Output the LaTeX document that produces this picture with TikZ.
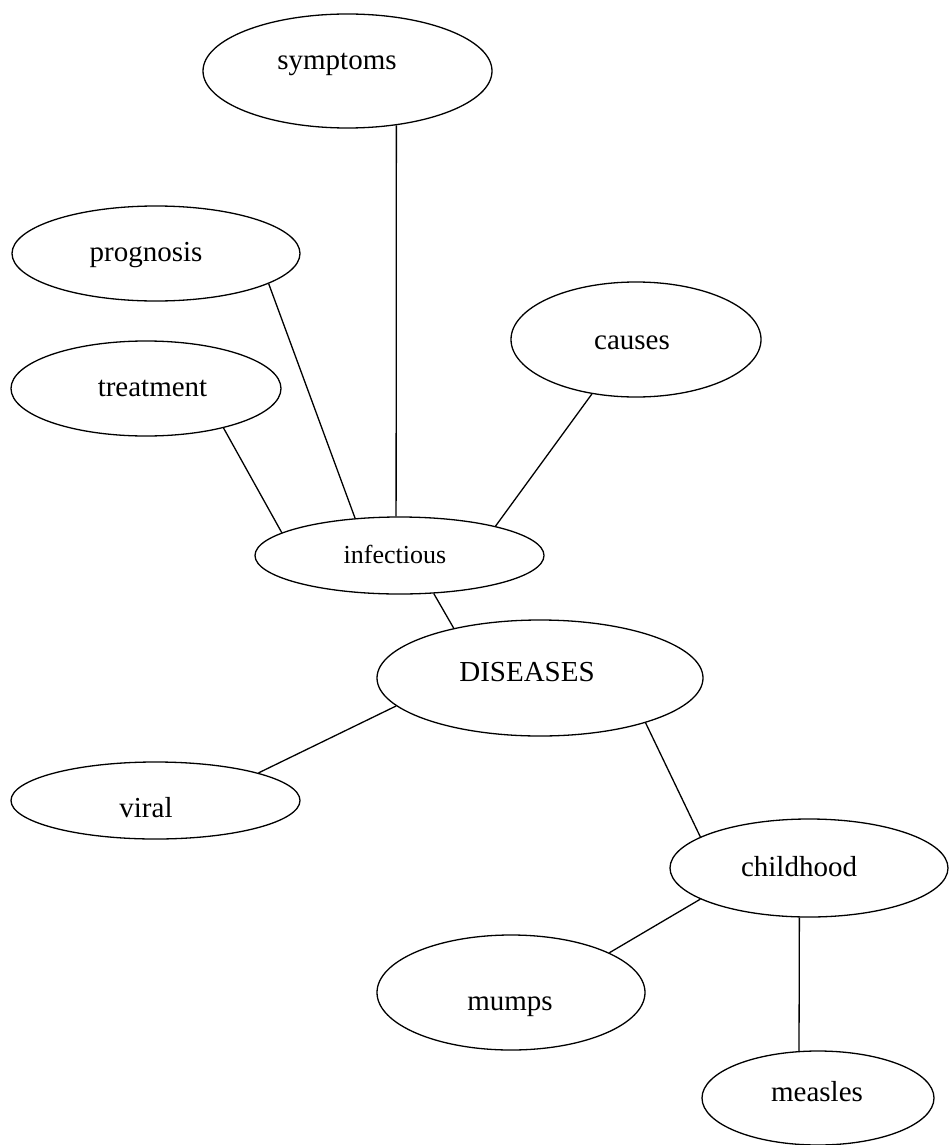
\documentclass[tikz,border=0pt]{standalone}
\usepackage{fontspec}
\setmainfont{Liberation Serif}
\usetikzlibrary{shapes.geometric}
\tikzset{
  oval/.style={ellipse, draw=black, line width=1.3pt, inner sep=0pt},
  lbl/.style={anchor=base, inner sep=0pt, font=\fontsize{29}{35}\selectfont},
  lblsmall/.style={anchor=base, inner sep=0pt, font=\fontsize{26}{31}\selectfont},
  link/.style={draw=black, line width=1.3pt}
}
\begin{document}
\begin{tikzpicture}[x=1pt, y=-1pt]
\useasboundingbox (0,0) rectangle (949,1145);
\fill[white] (0,0) rectangle (949,1145);

% ellipses
\node[oval, minimum width=289pt, minimum height=114pt] (symptoms) at (347.5,71) {};
\node[oval, minimum width=288pt, minimum height=95pt] (prognosis) at (156,253.5) {};
\node[oval, minimum width=270pt, minimum height=95pt] (treatment) at (146,388.5) {};
\node[oval, minimum width=250pt, minimum height=115pt] (causes) at (636,339.5) {};
\node[oval, minimum width=289pt, minimum height=77pt] (infectious) at (399.5,555.5) {};
\node[oval, minimum width=326pt, minimum height=116pt] (diseases) at (540,678) {};
\node[oval, minimum width=289pt, minimum height=77pt] (viral) at (155.5,800.5) {};
\node[oval, minimum width=278pt, minimum height=98pt] (childhood) at (809,868) {};
\node[oval, minimum width=268pt, minimum height=115pt] (mumps) at (511,992.5) {};
\node[oval, minimum width=232pt, minimum height=94pt] (measles) at (818,1098) {};

% labels
\node[lbl] (symptoms-t) at (337,70) {symptoms};
\node[lbl] (prognosis-t) at (146,261.5) {prognosis};
\node[lbl] (treatment-t) at (152.5,396.5) {treatment};
\node[lbl] (causes-t) at (632,349) {causes};
\node[lblsmall] (infectious-t) at (395,563.5) {infectious};
\node[lbl] (diseases-t) at (527,681) {DISEASES};
\node[lbl] (viral-t) at (146,817.5) {viral};
\node[lbl] (childhood-t) at (799,876.5) {childhood};
\node[lbl] (mumps-t) at (510,1010.5) {mumps};
\node[lbl] (measles-t) at (817,1101.5) {measles};

% connectors
\draw[link] (symptoms.-48) -- (infectious.95.3);
\draw[link] (prognosis.-15.55) -- (infectious.140.1);
\draw[link] (treatment.-27.16) -- (infectious.169.25);
\draw[link] (causes.-129.95) -- (infectious.17.13);
\draw[link] (infectious.-48.97) -- (diseases.150.33);
\draw[link] (diseases.-169.07) -- (viral.15.12);
\draw[link] (diseases.-23.2) -- (childhood.164.2);
\draw[link] (childhood.-164.84) -- (mumps.22.37);
\draw[link] (childhood.-101.57) -- (measles.112.27);
\end{tikzpicture}
\end{document}
